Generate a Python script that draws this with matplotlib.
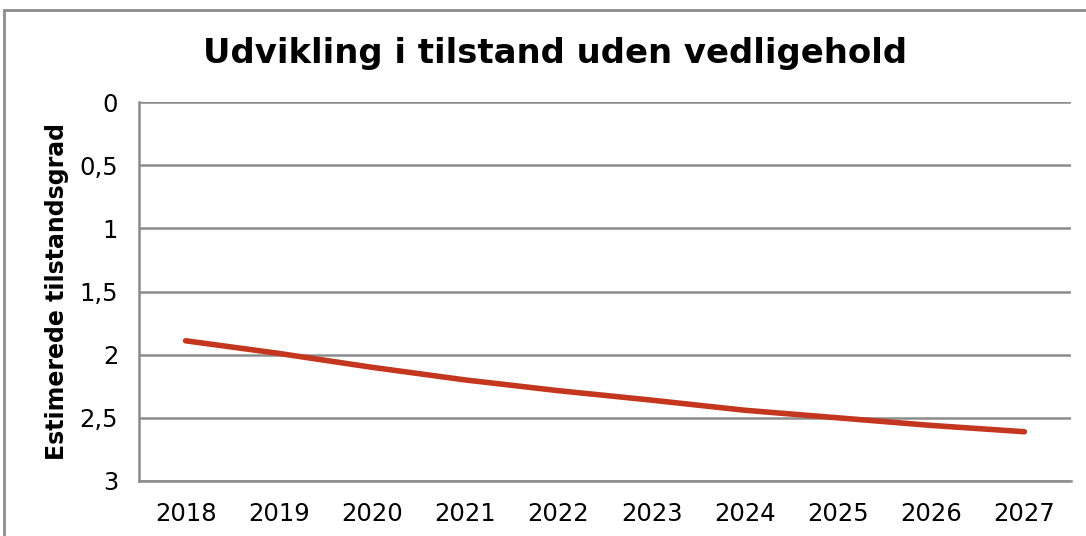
import matplotlib.pyplot as plt
from matplotlib.patches import Rectangle

# data
years = ["2018", "2019", "2020", "2021", "2022", "2023", "2024", "2025", "2026", "2027"]
grade = [1.89, 1.99, 2.10, 2.20, 2.285, 2.36, 2.44, 2.50, 2.56, 2.61]
yticks = [0, 0.5, 1, 1.5, 2, 2.5, 3]
ytick_labels = ["0", "0,5", "1", "1,5", "2", "2,5", "3"]

W, H = 1086, 536
fig = plt.figure(figsize=(W / 100, H / 100), dpi=100)
plt.rcParams['font.family'] = ['DejaVu Sans']

# outer chart frame (only top and left visible)
fig.patches.append(Rectangle((4 / W, -0.1), 1.2, 1.1 - 10 / H,
                             transform=fig.transFigure, fill=False,
                             edgecolor="#8c8c8c", linewidth=2))

ax = fig.add_axes([139 / W, 1 - 481 / H, (1071 - 139) / W, (481 - 102) / H])

x = range(len(years))
ax.plot(x, grade, color="#c4361e", linewidth=4, solid_capstyle="round")

ax.set_xlim(-0.5, len(years) - 0.5)
ax.set_ylim(3, 0)
ax.set_yticks(yticks)
ax.set_yticklabels(ytick_labels)
ax.set_xticks(list(x))
ax.set_xticklabels(years)
ax.tick_params(axis="both", length=0, labelsize=17.5, colors="black")
ax.tick_params(axis="y", pad=15)
ax.tick_params(axis="x", pad=15)

ax.grid(axis="y", color="#8c8c8c", linewidth=1.8)
ax.set_axisbelow(True)
for s in ["top", "right"]:
    ax.spines[s].set_visible(False)
for s in ["left", "bottom"]:
    ax.spines[s].set_color("#8c8c8c")
    ax.spines[s].set_linewidth(1.8)

ax.set_ylabel("Estimerede tilstandsgrad", fontsize=17, fontweight="bold")
ax.yaxis.set_label_coords((57 - 139) / (1071 - 139), (481 - 292) / (481 - 102))
ax.yaxis.label.set_va("center")
fig.text(555 / W, 1 - 53 / H, "Udvikling i tilstand uden vedligehold",
         fontsize=24.4, fontweight="bold", ha="center", va="center")

fig.savefig("out.png", dpi=100)
